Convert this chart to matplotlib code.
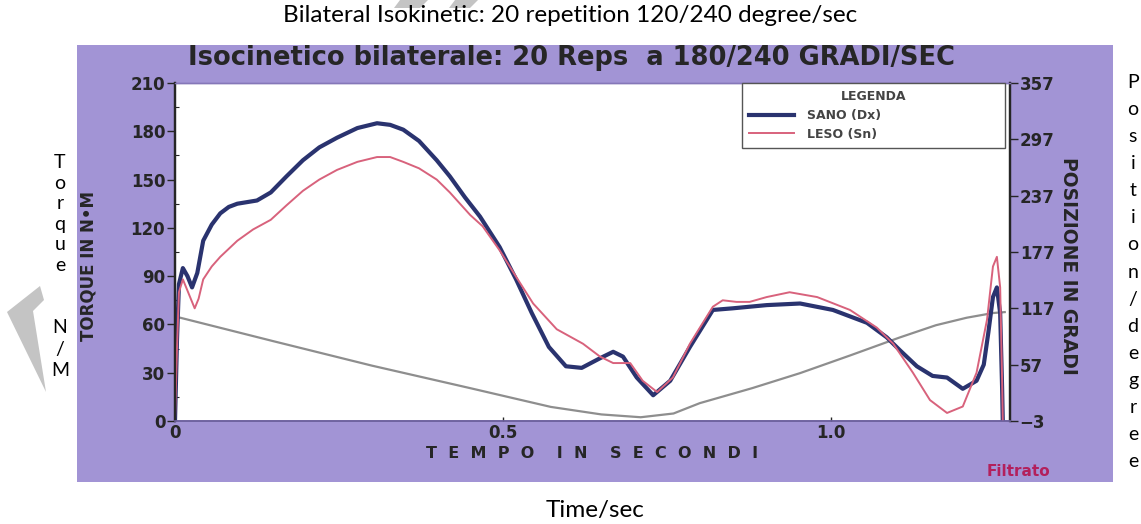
import matplotlib
matplotlib.use('Agg')
import matplotlib.pyplot as plt
from matplotlib.patches import Rectangle, Polygon

# ---- dati ----
# SANO (Dx) - coppia in N*m
sano_t = [0.000, 0.003, 0.006, 0.012, 0.019, 0.026, 0.034, 0.043, 0.056, 0.069, 0.082,
          0.095, 0.110, 0.125, 0.146, 0.170, 0.195, 0.220, 0.247, 0.278, 0.308, 0.328,
          0.348, 0.372, 0.399, 0.419, 0.442, 0.465, 0.495, 0.520, 0.544, 0.570, 0.596,
          0.620, 0.648, 0.668, 0.683, 0.704, 0.729, 0.755, 0.785, 0.820, 0.850, 0.902,
          0.953, 1.003, 1.055, 1.085, 1.105, 1.131, 1.155, 1.177, 1.201, 1.222, 1.233,
          1.240, 1.247, 1.253, 1.258, 1.261, 1.262]
sano_nm = [0, 50, 85, 95, 90, 83, 92, 112, 122, 129, 133,
           135, 136, 137, 142, 152, 162, 170, 176, 182, 185, 184,
           181, 174, 162, 152, 139, 127, 108, 88, 67, 46, 34,
           33, 39, 43, 40, 27, 16, 25, 46, 69, 70, 72,
           73, 69, 61, 52, 44, 34, 28, 27, 20, 25, 35,
           55, 77, 83, 67, 20, 0]

# LESO (Sn) - coppia in N*m
leso_t = [0.000, 0.003, 0.006, 0.012, 0.020, 0.030, 0.036, 0.043, 0.056, 0.069, 0.082,
          0.095, 0.119, 0.146, 0.170, 0.195, 0.220, 0.247, 0.278, 0.308, 0.328, 0.348,
          0.372, 0.399, 0.419, 0.450, 0.469, 0.495, 0.521, 0.546, 0.582, 0.622, 0.648,
          0.668, 0.694, 0.713, 0.735, 0.759, 0.785, 0.820, 0.835, 0.856, 0.876, 0.902,
          0.937, 0.979, 1.029, 1.070, 1.095, 1.125, 1.151, 1.177, 1.201, 1.222, 1.238,
          1.247, 1.253, 1.258, 1.261, 1.262]
leso_nm = [0, 45, 80, 88, 80, 70, 76, 88, 96, 102, 107,
           112, 119, 125, 134, 143, 150, 156, 161, 164, 164, 161,
           157, 150, 142, 128, 121, 106, 89, 73, 57, 48, 40,
           36, 36, 25, 18, 27, 48, 71, 75, 74, 74, 77,
           80, 77, 69, 58, 48, 30, 13, 5, 9, 30, 63,
           96, 102, 83, 25, 0]

# posizione in gradi (asse destro)
pos_t = [0.008, 0.150, 0.300, 0.450, 0.573, 0.650, 0.710, 0.760, 0.800, 0.880,
         0.953, 1.030, 1.105, 1.160, 1.207, 1.247, 1.265]
pos_deg = [107, 82, 56, 32, 12, 4, 1, 5, 16, 32,
           48, 67, 86, 99, 107, 112, 113]

torque_ticks = [0, 30, 60, 90, 120, 150, 180, 210]
pos_ticks = [-3, 57, 117, 177, 237, 297, 357]
time_ticks = [0, 0.5, 1.0]
time_labels = ['0', '0.5', '1.0']

PURPLE = '#a294d5'
INK = '#262626'
SANO_COL = '#2a336f'
LESO_COL = '#d8627c'
POS_COL = '#8e8e8e'
WATERMARK = '#c4c4c4'

W, H = 1141, 524


def fx(px):
    return px / W


def fy(py):
    return 1 - py / H


def fig_poly(points):
    return Polygon([(fx(x), fy(y)) for x, y in points], closed=True,
                   transform=fig.transFigure, facecolor=WATERMARK,
                   edgecolor='none', zorder=0)


fig = plt.figure(figsize=(W / 100, H / 100), dpi=100)
fig.patch.set_facecolor('white')

# pannello viola della scansione
fig.add_artist(Rectangle((fx(77), fy(482)), fx(1113) - fx(77), fy(45) - fy(482),
                         transform=fig.transFigure, facecolor=PURPLE,
                         edgecolor='none', zorder=0))

# filigrana grigia
fig.add_artist(fig_poly([(7, 312), (40, 286), (44, 300), (33, 311), (46, 392)]))
fig.add_artist(fig_poly([(400, 0), (428, 0), (420, 8), (394, 8)]))
fig.add_artist(fig_poly([(455, 0), (478, 0), (470, 8), (449, 8)]))

ax = fig.add_axes([fx(175), fy(421), fx(1010) - fx(175), fy(83) - fy(421)])
ax2 = ax.twinx()
ax.set_zorder(2)
ax2.set_zorder(1)
ax.patch.set_visible(False)
ax2.patch.set_visible(True)
ax2.set_facecolor('white')

ax2.plot(pos_t, pos_deg, color=POS_COL, lw=1.6)
l_sano, = ax.plot(sano_t, sano_nm, color=SANO_COL, lw=3.0, solid_joinstyle='round')
l_leso, = ax.plot(leso_t, leso_nm, color=LESO_COL, lw=1.4, solid_joinstyle='round')

ax.set_xlim(0, 1.273)
ax.set_ylim(0, 210)
ax2.set_ylim(-3, 357)

ax.set_yticks(torque_ticks)
ax.set_yticks(range(0, 211, 15), minor=True)
ax.set_xticks(time_ticks)
ax.set_xticklabels(time_labels)
ax2.set_yticks(pos_ticks)

for lab in ax.get_yticklabels() + ax.get_xticklabels() + ax2.get_yticklabels():
    lab.set_fontsize(12)
    lab.set_fontweight('bold')
    lab.set_color(INK)

ax.tick_params(axis='y', which='major', length=6, width=1, color=INK, pad=1)
ax.tick_params(axis='y', which='minor', length=3, width=0.8, color=INK, direction='in')
ax.tick_params(axis='x', length=3, width=1, color=INK, direction='in', pad=2)
ax2.tick_params(axis='y', length=6, width=1, color=INK, pad=1)

for a in (ax, ax2):
    a.spines['left'].set_color(INK)
    a.spines['right'].set_color(INK)
    a.spines['left'].set_linewidth(1.6)
    a.spines['right'].set_linewidth(1.6)
    a.spines['top'].set_color('#8577b8')
    a.spines['bottom'].set_color('#6f63a0')
    a.spines['top'].set_linewidth(1)
    a.spines['bottom'].set_linewidth(1.2)

ax.set_ylabel('TORQUE IN N•M', fontsize=12, fontweight='bold', color=INK)
ax.yaxis.set_label_coords(-0.093, 0.46)
ax2.set_ylabel('POSIZIONE IN GRADI', fontsize=13.5, fontweight='bold', color=INK,
               rotation=270, va='center')
ax2.yaxis.set_label_coords(1.07, 0.46)
ax.set_xlabel('T  E  M  P  O    I  N    S  E  C  O  N  D  I', fontsize=11.5,
              fontweight='bold', color=INK, labelpad=3)

leg = ax.legend([l_sano, l_leso], ['SANO (Dx)', 'LESO (Sn)'], title='LEGENDA',
                loc='upper left', bbox_to_anchor=(0.679, 0.0, 0.315, 1.0),
                mode='expand', borderaxespad=0, fancybox=False, framealpha=1,
                edgecolor='#555555', prop=dict(size=9, weight='bold'),
                title_fontproperties=dict(size=9, weight='bold'),
                labelcolor='#444444', handlelength=3.6, handletextpad=1.0,
                labelspacing=0.45, borderpad=0.6)
leg.get_frame().set_linewidth(1)
leg.get_title().set_color('#444444')

# titoli interni ed esterni
fig.text(fx(571), fy(58), 'Isocinetico bilaterale: 20 Reps  a 180/240 GRADI/SEC',
         ha='center', va='center', fontsize=18.5, fontweight='bold', color=INK)
fig.text(fx(1018), fy(472), 'Filtrato', ha='center', va='center', fontsize=11,
         fontweight='bold', color='#b3205c')

outer = dict(family='Lato', color='black')
fig.text(fx(570), fy(16), 'Bilateral Isokinetic: 20 repetition 120/240 degree/sec',
         ha='center', va='center', fontsize=17.5, **outer)
fig.text(fx(595), fy(510), 'Time/sec', ha='center', va='center', fontsize=17.5, **outer)
fig.text(fx(60), fy(214), '\n'.join('Torque'),
         ha='center', va='center', fontsize=14, linespacing=1.25, **outer)
fig.text(fx(60), fy(349), '\n'.join('N/M'),
         ha='center', va='center', fontsize=14, linespacing=1.35, **outer)
fig.text(fx(1133), fy(272), '\n'.join('Position/degree'),
         ha='center', va='center', fontsize=14, linespacing=1.72, **outer)

fig.savefig('out.png', dpi=100)
